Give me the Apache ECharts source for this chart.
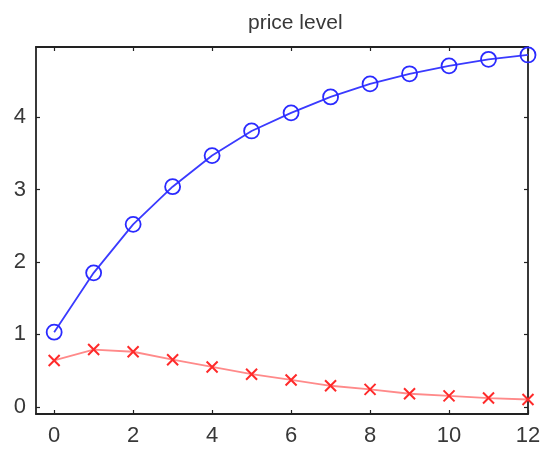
<!DOCTYPE html>
<html>
<head>
<meta charset="utf-8">
<script src="https://cdn.jsdelivr.net/npm/echarts@6/dist/echarts.min.js"></script>
<style>
  html, body { margin: 0; padding: 0; background: #fff; }
  #chart { width: 545px; height: 449px; }
</style>
</head>
<body>
<div id="chart"></div>
<script>
// Horizon (periods) and the two response paths
const periods = [0, 1, 2, 3, 4, 5, 6, 7, 8, 9, 10, 11, 12];
const circleSeries = [1.03, 1.85, 2.52, 3.04, 3.47, 3.81, 4.06, 4.28, 4.46, 4.60, 4.71, 4.80, 4.86];
const crossSeries = [0.64, 0.79, 0.76, 0.65, 0.55, 0.45, 0.37, 0.29, 0.24, 0.18, 0.15, 0.12, 0.10];

// Tick labels
const xTickValues = [0, 2, 4, 6, 8, 10, 12];
const yTickValues = [0, 1, 2, 3, 4];

const titleText = 'price level';

const FONT = '"Liberation Sans", Arial, sans-serif';
const AXIS_COLOR = '#222';

const toPairs = (ys) => periods.map((p, i) => [p, ys[i]]);

const xRange = { min: -0.46, max: 12 };
const yRange = { min: -0.1, max: 4.97 };

function xAxisDef(position, showLabels) {
  return {
    type: 'value',
    position: position,
    min: xRange.min,
    max: xRange.max,
    splitLine: { show: false },
    axisLine: { show: true, onZero: false, lineStyle: { color: AXIS_COLOR, width: 1.8 } },
    axisTick: { show: true, inside: true, length: 4, customValues: xTickValues,
                lineStyle: { color: AXIS_COLOR, width: 1.2 } },
    axisLabel: { show: showLabels, customValues: xTickValues, margin: 11,
                 fontFamily: FONT, fontSize: 22, color: '#383838' }
  };
}

function yAxisDef(position, showLabels) {
  return {
    type: 'value',
    position: position,
    min: yRange.min,
    max: yRange.max,
    splitLine: { show: false },
    axisLine: { show: true, onZero: false, lineStyle: { color: AXIS_COLOR, width: 1.8 } },
    axisTick: { show: true, inside: true, length: 4, customValues: yTickValues,
                lineStyle: { color: AXIS_COLOR, width: 1.2 } },
    axisLabel: { show: showLabels, customValues: yTickValues, margin: 10,
                 fontFamily: FONT, fontSize: 22, color: '#383838' }
  };
}

const crossPath = 'path://M0,0L10,10M10,0L0,10';

const chart = echarts.init(document.getElementById('chart'), null, { renderer: 'canvas' });
chart.setOption({
  animation: false,
  backgroundColor: '#fff',
  title: {
    text: titleText,
    left: 243,
    top: 8,
    textStyle: { fontFamily: FONT, fontSize: 21, fontWeight: 'normal', color: '#383838' }
  },
  grid: { left: 36, right: 17, top: 47, bottom: 35 },
  xAxis: [xAxisDef('bottom', true), xAxisDef('top', false)],
  yAxis: [yAxisDef('left', true), yAxisDef('right', false)],
  series: [
    {
      type: 'line',
      data: toPairs(circleSeries),
      xAxisIndex: 0,
      yAxisIndex: 0,
      clip: false,
      symbol: 'circle',
      symbolSize: 15,
      lineStyle: { color: '#3a3aff', width: 1.8 },
      itemStyle: { color: 'rgba(0,0,0,0)', borderColor: '#2a2aff', borderWidth: 1.8 },
      z: 3
    },
    {
      type: 'line',
      data: toPairs(crossSeries),
      xAxisIndex: 0,
      yAxisIndex: 0,
      clip: false,
      symbol: crossPath,
      symbolSize: 11,
      lineStyle: { color: '#ff8a8a', width: 1.8 },
      itemStyle: { color: 'rgba(0,0,0,0)', borderColor: '#ff2a2a', borderWidth: 2 },
      z: 3
    }
  ]
});
</script>
</body>
</html>
